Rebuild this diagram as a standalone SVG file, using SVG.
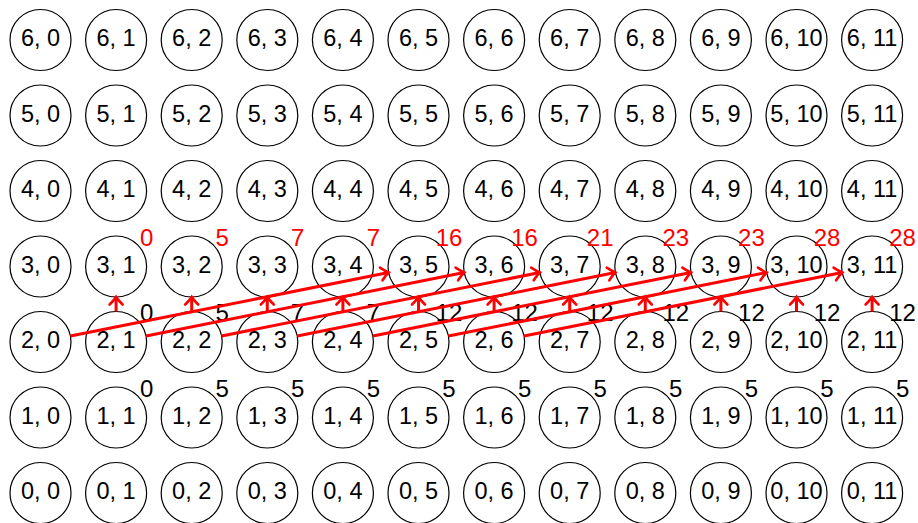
<svg xmlns="http://www.w3.org/2000/svg" width="918" height="523" viewBox="0 0 918 523">
<style>
.n circle{fill:#fff;stroke:#000;stroke-width:1.2}
.n text{font-family:"Liberation Sans",Arial,sans-serif;font-size:23.5px;text-anchor:middle;fill:#000}
.lb{font-family:"Liberation Sans",Arial,sans-serif;font-size:24px;text-anchor:middle}
.lb.k{fill:#000}
.lb.r{fill:#ff0000}
.e{stroke:#ff0000;stroke-width:3;fill:none;marker-end:url(#ah)}
</style>
<defs>
<marker id="ah" markerUnits="userSpaceOnUse" markerWidth="20" markerHeight="20" viewBox="-10 -10 20 20" refX="0" refY="0" orient="auto">
<path d="M -7.5 -6.5 Q -2.5 -1.5 0 0 Q -2.5 1.5 -7.5 6.5" fill="none" stroke="#ff0000" stroke-width="2.6" stroke-linecap="round"/>
</marker>
</defs>
<rect width="918" height="523" fill="#fff"/>
<g id="nodes">
<g id="n6_0" class="n"><circle cx="40.5" cy="40" r="30.5"/><text x="40.5" y="46">6, 0</text></g>
<g id="n6_1" class="n"><circle cx="116.1" cy="40" r="30.5"/><text x="116.1" y="46">6, 1</text></g>
<g id="n6_2" class="n"><circle cx="191.7" cy="40" r="30.5"/><text x="191.7" y="46">6, 2</text></g>
<g id="n6_3" class="n"><circle cx="267.3" cy="40" r="30.5"/><text x="267.3" y="46">6, 3</text></g>
<g id="n6_4" class="n"><circle cx="342.9" cy="40" r="30.5"/><text x="342.9" y="46">6, 4</text></g>
<g id="n6_5" class="n"><circle cx="418.5" cy="40" r="30.5"/><text x="418.5" y="46">6, 5</text></g>
<g id="n6_6" class="n"><circle cx="494.1" cy="40" r="30.5"/><text x="494.1" y="46">6, 6</text></g>
<g id="n6_7" class="n"><circle cx="569.7" cy="40" r="30.5"/><text x="569.7" y="46">6, 7</text></g>
<g id="n6_8" class="n"><circle cx="645.3" cy="40" r="30.5"/><text x="645.3" y="46">6, 8</text></g>
<g id="n6_9" class="n"><circle cx="720.9" cy="40" r="30.5"/><text x="720.9" y="46">6, 9</text></g>
<g id="n6_10" class="n"><circle cx="796.5" cy="40" r="30.5"/><text x="796.5" y="46">6, 10</text></g>
<g id="n6_11" class="n"><circle cx="872.1" cy="40" r="30.5"/><text x="872.1" y="46">6, 11</text></g>

<g id="n5_0" class="n"><circle cx="40.5" cy="115.5" r="30.5"/><text x="40.5" y="121.5">5, 0</text></g>
<g id="n5_1" class="n"><circle cx="116.1" cy="115.5" r="30.5"/><text x="116.1" y="121.5">5, 1</text></g>
<g id="n5_2" class="n"><circle cx="191.7" cy="115.5" r="30.5"/><text x="191.7" y="121.5">5, 2</text></g>
<g id="n5_3" class="n"><circle cx="267.3" cy="115.5" r="30.5"/><text x="267.3" y="121.5">5, 3</text></g>
<g id="n5_4" class="n"><circle cx="342.9" cy="115.5" r="30.5"/><text x="342.9" y="121.5">5, 4</text></g>
<g id="n5_5" class="n"><circle cx="418.5" cy="115.5" r="30.5"/><text x="418.5" y="121.5">5, 5</text></g>
<g id="n5_6" class="n"><circle cx="494.1" cy="115.5" r="30.5"/><text x="494.1" y="121.5">5, 6</text></g>
<g id="n5_7" class="n"><circle cx="569.7" cy="115.5" r="30.5"/><text x="569.7" y="121.5">5, 7</text></g>
<g id="n5_8" class="n"><circle cx="645.3" cy="115.5" r="30.5"/><text x="645.3" y="121.5">5, 8</text></g>
<g id="n5_9" class="n"><circle cx="720.9" cy="115.5" r="30.5"/><text x="720.9" y="121.5">5, 9</text></g>
<g id="n5_10" class="n"><circle cx="796.5" cy="115.5" r="30.5"/><text x="796.5" y="121.5">5, 10</text></g>
<g id="n5_11" class="n"><circle cx="872.1" cy="115.5" r="30.5"/><text x="872.1" y="121.5">5, 11</text></g>

<g id="n4_0" class="n"><circle cx="40.5" cy="191" r="30.5"/><text x="40.5" y="197">4, 0</text></g>
<g id="n4_1" class="n"><circle cx="116.1" cy="191" r="30.5"/><text x="116.1" y="197">4, 1</text></g>
<g id="n4_2" class="n"><circle cx="191.7" cy="191" r="30.5"/><text x="191.7" y="197">4, 2</text></g>
<g id="n4_3" class="n"><circle cx="267.3" cy="191" r="30.5"/><text x="267.3" y="197">4, 3</text></g>
<g id="n4_4" class="n"><circle cx="342.9" cy="191" r="30.5"/><text x="342.9" y="197">4, 4</text></g>
<g id="n4_5" class="n"><circle cx="418.5" cy="191" r="30.5"/><text x="418.5" y="197">4, 5</text></g>
<g id="n4_6" class="n"><circle cx="494.1" cy="191" r="30.5"/><text x="494.1" y="197">4, 6</text></g>
<g id="n4_7" class="n"><circle cx="569.7" cy="191" r="30.5"/><text x="569.7" y="197">4, 7</text></g>
<g id="n4_8" class="n"><circle cx="645.3" cy="191" r="30.5"/><text x="645.3" y="197">4, 8</text></g>
<g id="n4_9" class="n"><circle cx="720.9" cy="191" r="30.5"/><text x="720.9" y="197">4, 9</text></g>
<g id="n4_10" class="n"><circle cx="796.5" cy="191" r="30.5"/><text x="796.5" y="197">4, 10</text></g>
<g id="n4_11" class="n"><circle cx="872.1" cy="191" r="30.5"/><text x="872.1" y="197">4, 11</text></g>

<g id="n3_0" class="n"><circle cx="40.5" cy="266.5" r="30.5"/><text x="40.5" y="272.5">3, 0</text></g>
<g id="n3_1" class="n"><circle cx="116.1" cy="266.5" r="30.5"/><text x="116.1" y="272.5">3, 1</text></g>
<g id="n3_2" class="n"><circle cx="191.7" cy="266.5" r="30.5"/><text x="191.7" y="272.5">3, 2</text></g>
<g id="n3_3" class="n"><circle cx="267.3" cy="266.5" r="30.5"/><text x="267.3" y="272.5">3, 3</text></g>
<g id="n3_4" class="n"><circle cx="342.9" cy="266.5" r="30.5"/><text x="342.9" y="272.5">3, 4</text></g>
<g id="n3_5" class="n"><circle cx="418.5" cy="266.5" r="30.5"/><text x="418.5" y="272.5">3, 5</text></g>
<g id="n3_6" class="n"><circle cx="494.1" cy="266.5" r="30.5"/><text x="494.1" y="272.5">3, 6</text></g>
<g id="n3_7" class="n"><circle cx="569.7" cy="266.5" r="30.5"/><text x="569.7" y="272.5">3, 7</text></g>
<g id="n3_8" class="n"><circle cx="645.3" cy="266.5" r="30.5"/><text x="645.3" y="272.5">3, 8</text></g>
<g id="n3_9" class="n"><circle cx="720.9" cy="266.5" r="30.5"/><text x="720.9" y="272.5">3, 9</text></g>
<g id="n3_10" class="n"><circle cx="796.5" cy="266.5" r="30.5"/><text x="796.5" y="272.5">3, 10</text></g>
<g id="n3_11" class="n"><circle cx="872.1" cy="266.5" r="30.5"/><text x="872.1" y="272.5">3, 11</text></g>

<g id="n2_0" class="n"><circle cx="40.5" cy="342" r="30.5"/><text x="40.5" y="348">2, 0</text></g>
<g id="n2_1" class="n"><circle cx="116.1" cy="342" r="30.5"/><text x="116.1" y="348">2, 1</text></g>
<g id="n2_2" class="n"><circle cx="191.7" cy="342" r="30.5"/><text x="191.7" y="348">2, 2</text></g>
<g id="n2_3" class="n"><circle cx="267.3" cy="342" r="30.5"/><text x="267.3" y="348">2, 3</text></g>
<g id="n2_4" class="n"><circle cx="342.9" cy="342" r="30.5"/><text x="342.9" y="348">2, 4</text></g>
<g id="n2_5" class="n"><circle cx="418.5" cy="342" r="30.5"/><text x="418.5" y="348">2, 5</text></g>
<g id="n2_6" class="n"><circle cx="494.1" cy="342" r="30.5"/><text x="494.1" y="348">2, 6</text></g>
<g id="n2_7" class="n"><circle cx="569.7" cy="342" r="30.5"/><text x="569.7" y="348">2, 7</text></g>
<g id="n2_8" class="n"><circle cx="645.3" cy="342" r="30.5"/><text x="645.3" y="348">2, 8</text></g>
<g id="n2_9" class="n"><circle cx="720.9" cy="342" r="30.5"/><text x="720.9" y="348">2, 9</text></g>
<g id="n2_10" class="n"><circle cx="796.5" cy="342" r="30.5"/><text x="796.5" y="348">2, 10</text></g>
<g id="n2_11" class="n"><circle cx="872.1" cy="342" r="30.5"/><text x="872.1" y="348">2, 11</text></g>

<g id="n1_0" class="n"><circle cx="40.5" cy="417.5" r="30.5"/><text x="40.5" y="423.5">1, 0</text></g>
<g id="n1_1" class="n"><circle cx="116.1" cy="417.5" r="30.5"/><text x="116.1" y="423.5">1, 1</text></g>
<g id="n1_2" class="n"><circle cx="191.7" cy="417.5" r="30.5"/><text x="191.7" y="423.5">1, 2</text></g>
<g id="n1_3" class="n"><circle cx="267.3" cy="417.5" r="30.5"/><text x="267.3" y="423.5">1, 3</text></g>
<g id="n1_4" class="n"><circle cx="342.9" cy="417.5" r="30.5"/><text x="342.9" y="423.5">1, 4</text></g>
<g id="n1_5" class="n"><circle cx="418.5" cy="417.5" r="30.5"/><text x="418.5" y="423.5">1, 5</text></g>
<g id="n1_6" class="n"><circle cx="494.1" cy="417.5" r="30.5"/><text x="494.1" y="423.5">1, 6</text></g>
<g id="n1_7" class="n"><circle cx="569.7" cy="417.5" r="30.5"/><text x="569.7" y="423.5">1, 7</text></g>
<g id="n1_8" class="n"><circle cx="645.3" cy="417.5" r="30.5"/><text x="645.3" y="423.5">1, 8</text></g>
<g id="n1_9" class="n"><circle cx="720.9" cy="417.5" r="30.5"/><text x="720.9" y="423.5">1, 9</text></g>
<g id="n1_10" class="n"><circle cx="796.5" cy="417.5" r="30.5"/><text x="796.5" y="423.5">1, 10</text></g>
<g id="n1_11" class="n"><circle cx="872.1" cy="417.5" r="30.5"/><text x="872.1" y="423.5">1, 11</text></g>

<g id="n0_0" class="n"><circle cx="40.5" cy="493" r="30.5"/><text x="40.5" y="499">0, 0</text></g>
<g id="n0_1" class="n"><circle cx="116.1" cy="493" r="30.5"/><text x="116.1" y="499">0, 1</text></g>
<g id="n0_2" class="n"><circle cx="191.7" cy="493" r="30.5"/><text x="191.7" y="499">0, 2</text></g>
<g id="n0_3" class="n"><circle cx="267.3" cy="493" r="30.5"/><text x="267.3" y="499">0, 3</text></g>
<g id="n0_4" class="n"><circle cx="342.9" cy="493" r="30.5"/><text x="342.9" y="499">0, 4</text></g>
<g id="n0_5" class="n"><circle cx="418.5" cy="493" r="30.5"/><text x="418.5" y="499">0, 5</text></g>
<g id="n0_6" class="n"><circle cx="494.1" cy="493" r="30.5"/><text x="494.1" y="499">0, 6</text></g>
<g id="n0_7" class="n"><circle cx="569.7" cy="493" r="30.5"/><text x="569.7" y="499">0, 7</text></g>
<g id="n0_8" class="n"><circle cx="645.3" cy="493" r="30.5"/><text x="645.3" y="499">0, 8</text></g>
<g id="n0_9" class="n"><circle cx="720.9" cy="493" r="30.5"/><text x="720.9" y="499">0, 9</text></g>
<g id="n0_10" class="n"><circle cx="796.5" cy="493" r="30.5"/><text x="796.5" y="499">0, 10</text></g>
<g id="n0_11" class="n"><circle cx="872.1" cy="493" r="30.5"/><text x="872.1" y="499">0, 11</text></g>
</g>

<g id="labels-row1">
<text class="lb k" x="146.6" y="396.5">0</text>
<text class="lb k" x="222.2" y="396.5">5</text>
<text class="lb k" x="297.8" y="396.5">5</text>
<text class="lb k" x="373.4" y="396.5">5</text>
<text class="lb k" x="449" y="396.5">5</text>
<text class="lb k" x="524.6" y="396.5">5</text>
<text class="lb k" x="600.2" y="396.5">5</text>
<text class="lb k" x="675.8" y="396.5">5</text>
<text class="lb k" x="751.4" y="396.5">5</text>
<text class="lb k" x="827" y="396.5">5</text>
<text class="lb k" x="902.6" y="396.5">5</text>
</g>
<g id="labels-row2">
<text class="lb k" x="146.6" y="320.5">0</text>
<text class="lb k" x="222.2" y="320.5">5</text>
<text class="lb k" x="297.8" y="320.5">7</text>
<text class="lb k" x="373.4" y="320.5">7</text>
<text class="lb k" x="449" y="320.5">12</text>
<text class="lb k" x="524.6" y="320.5">12</text>
<text class="lb k" x="600.2" y="320.5">12</text>
<text class="lb k" x="675.8" y="320.5">12</text>
<text class="lb k" x="751.4" y="320.5">12</text>
<text class="lb k" x="827" y="320.5">12</text>
<text class="lb k" x="902.6" y="320.5">12</text>
</g>
<g id="labels-row3">
<text class="lb r" x="146.6" y="245.5">0</text>
<text class="lb r" x="222.2" y="245.5">5</text>
<text class="lb r" x="297.8" y="245.5">7</text>
<text class="lb r" x="373.4" y="245.5">7</text>
<text class="lb r" x="449" y="245.5">16</text>
<text class="lb r" x="524.6" y="245.5">16</text>
<text class="lb r" x="600.2" y="245.5">21</text>
<text class="lb r" x="675.8" y="245.5">23</text>
<text class="lb r" x="751.4" y="245.5">23</text>
<text class="lb r" x="827" y="245.5">28</text>
<text class="lb r" x="902.6" y="245.5">28</text>
</g>

<g id="connectors">
<line class="e" x1="116.1" y1="311.5" x2="116.1" y2="297"/>
<line class="e" x1="191.7" y1="311.5" x2="191.7" y2="297"/>
<line class="e" x1="267.3" y1="311.5" x2="267.3" y2="297"/>
<line class="e" x1="342.9" y1="311.5" x2="342.9" y2="297"/>
<line class="e" x1="418.5" y1="311.5" x2="418.5" y2="297"/>
<line class="e" x1="494.1" y1="311.5" x2="494.1" y2="297"/>
<line class="e" x1="569.7" y1="311.5" x2="569.7" y2="297"/>
<line class="e" x1="645.3" y1="311.5" x2="645.3" y2="297"/>
<line class="e" x1="720.9" y1="311.5" x2="720.9" y2="297"/>
<line class="e" x1="796.5" y1="311.5" x2="796.5" y2="297"/>
<line class="e" x1="872.1" y1="311.5" x2="872.1" y2="297"/>
<line class="e" x1="70.4" y1="336" x2="388.6" y2="272.5"/>
<line class="e" x1="146" y1="336" x2="464.2" y2="272.5"/>
<line class="e" x1="221.6" y1="336" x2="539.8" y2="272.5"/>
<line class="e" x1="297.2" y1="336" x2="615.4" y2="272.5"/>
<line class="e" x1="372.8" y1="336" x2="691" y2="272.5"/>
<line class="e" x1="448.4" y1="336" x2="766.6" y2="272.5"/>
<line class="e" x1="524" y1="336" x2="842.2" y2="272.5"/>
</g>
</svg>
